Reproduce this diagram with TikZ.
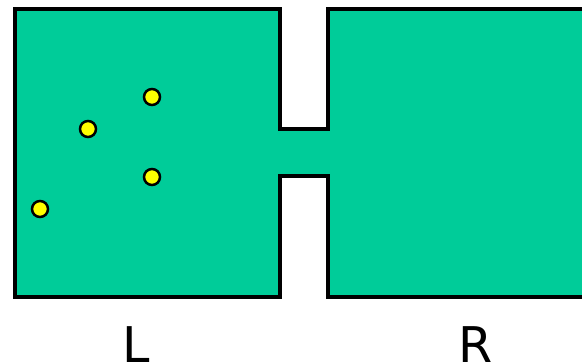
\documentclass[tikz,border=0pt]{standalone}
\usepackage{fontspec}
\setmainfont{DejaVu Sans}
\definecolor{cgas}{RGB}{0,204,153}
\definecolor{cpart}{RGB}{255,255,0}

\begin{document}
\begin{tikzpicture}[x=0.03cm,y=-0.03cm,line width=0.1cm,
   mol/.style={circle,draw,fill=cpart,line width=0.075cm,minimum size=0.48cm,inner sep=0pt},
   lbl/.style={font=\fontsize{42}{50}\selectfont,anchor=base,inner sep=0pt}]
  \useasboundingbox (0,0) rectangle (582,364);
  \clip (0,0) rectangle (582,364);
  % two chambers joined by a narrow channel
  \draw[fill=cgas] (15,9) -- (280,9) -- (280,129) -- (328,129) -- (328,9) -- (600,9)
     -- (600,297) -- (328,297) -- (328,176) -- (280,176) -- (280,297) -- (15,297) -- cycle;
  % particles in the left chamber
  \node[mol] (m1) at (152,97)  {};
  \node[mol] (m2) at (88,129)  {};
  \node[mol] (m3) at (152,177) {};
  \node[mol] (m4) at (40,209)  {};
  % chamber labels
  \node[lbl] (left)  at (136,362) {L};
  \node[lbl] (right) at (476,362) {R};
\end{tikzpicture}
\end{document}
